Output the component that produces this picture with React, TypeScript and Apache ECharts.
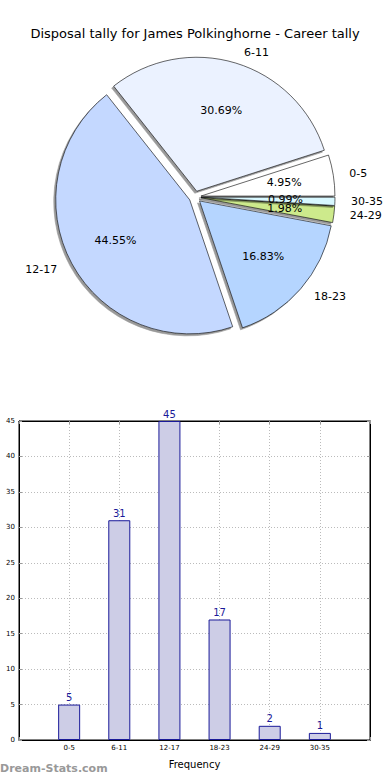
import React, { useEffect, useRef } from "react";
import * as echarts from "echarts";

const categories = ["0-5", "6-11", "12-17", "18-23", "24-29", "30-35"];
const counts = [5, 31, 45, 17, 2, 1];
const pieColors = ["#ffffff", "#ebf2ff", "#c4d8ff", "#b5d5ff", "#cdea8c", "#d8f8ff"];
const yTicks = { min: 0, max: 45, step: 5 };

const FONT = "DejaVu Sans";

export default function App() {
  const ref = useRef<HTMLDivElement>(null);
  useEffect(() => {
    if (!ref.current) return;
    const chart = echarts.init(ref.current, undefined, { renderer: "svg" });
    const total = counts.reduce((a, b) => a + b, 0);
    const R = 134;
    const cx = 195;
    const cy = 197;
    const pieData = categories.map((c, i) => ({
      name: c,
      value: counts[i],
      selected: true,
      itemStyle: { color: pieColors[i] },
    }));
    const pctSeries = categories.map((c, k) => ({
      type: "pie",
      center: [cx, cy],
      radius: [0, R * 1.2],
      startAngle: 0,
      clockwise: false,
      selectedMode: "multiple",
      selectedOffset: 7,
      avoidLabelOverlap: false,
      minShowLabelAngle: 0,
      labelLayout: { hideOverlap: false },
      silent: true,
      z: 5 + k,
      emphasis: { disabled: true },
      itemStyle: { color: "rgba(0,0,0,0)", borderWidth: 0 },
      label: {
        show: false,
        position: "inside",
        fontFamily: FONT,
        fontSize: 11,
        color: "#000",
        formatter: (p: any) => ((p.value / total) * 100).toFixed(2) + "%",
      },
      labelLine: { show: false },
      data: categories.map((cc, i) => ({
        name: cc,
        value: counts[i],
        selected: true,
        label: { show: i === k },
      })),
    }));
    const tickStyle = { show: true, inside: true, length: 3, lineStyle: { color: "#999" } };
    const gridLine = { show: true, lineStyle: { color: "#bbb", type: [1, 2] } };
    chart.setOption({
      animation: false,
      title: {
        text: "Disposal tally for James Polkinghorne - Career tally",
        left: "center",
        top: 22,
        textStyle: { fontFamily: FONT, fontWeight: "normal", fontSize: 13, color: "#000" },
      },
      graphic: [
        {
          type: "text",
          left: 0,
          top: 763,
          style: {
            text: "Dream-Stats.com",
            fontFamily: FONT,
            fontSize: 11,
            fontWeight: "bold",
            fill: "#999",
          },
        },
      ],
      grid: {
        left: 19,
        right: 20,
        top: 421,
        bottom: 40,
        show: true,
        borderColor: "#000",
        borderWidth: 1,
        backgroundColor: "transparent",
      },
      xAxis: [
        {
          type: "value",
          min: -1,
          max: 6,
          interval: 1,
          name: "Frequency",
          nameLocation: "middle",
          nameGap: 19,
          nameTextStyle: { fontFamily: FONT, fontSize: 10, color: "#000" },
          axisLine: { show: true, onZero: false, lineStyle: { color: "#000", width: 1 } },
          axisTick: tickStyle,
          axisLabel: {
            fontFamily: FONT,
            fontSize: 7,
            color: "#000",
            margin: 4,
            formatter: (v: number) => (v >= 0 && v < categories.length ? categories[v] : ""),
          },
          splitLine: gridLine,
        },
        {
          type: "value",
          position: "top",
          min: -1,
          max: 6,
          interval: 1,
          axisLine: { show: true, onZero: false, lineStyle: { color: "#000", width: 1 } },
          axisTick: tickStyle,
          axisLabel: { show: false },
          splitLine: { show: false },
        },
      ],
      yAxis: [
        {
          type: "value",
          min: yTicks.min,
          max: yTicks.max,
          interval: yTicks.step,
          axisLine: { show: true, onZero: false, lineStyle: { color: "#000", width: 1 } },
          axisTick: tickStyle,
          axisLabel: { fontFamily: FONT, fontSize: 7, color: "#000", margin: 4 },
          splitLine: gridLine,
        },
        {
          type: "value",
          position: "right",
          min: yTicks.min,
          max: yTicks.max,
          interval: yTicks.step,
          axisLine: { show: true, onZero: false, lineStyle: { color: "#000", width: 1 } },
          axisTick: tickStyle,
          axisLabel: { show: false },
          splitLine: { show: false },
        },
      ],
      series: [
        {
          type: "pie",
          center: [cx, cy],
          radius: [0, R],
          startAngle: 0,
          clockwise: false,
          selectedMode: "multiple",
          selectedOffset: 6,
          avoidLabelOverlap: false,
          silent: true,
          emphasis: { disabled: true },
          itemStyle: {
            borderColor: "#000",
            borderWidth: 0.6,
            shadowColor: "rgba(0,0,0,0.4)",
            shadowBlur: 0,
            shadowOffsetX: -2,
            shadowOffsetY: 2,
          },
          label: {
            show: true,
            position: "outside",
            fontFamily: FONT,
            fontSize: 11,
            color: "#000",
            formatter: "{b}",
          },
          labelLine: { show: false, length: 11, length2: 0 },
          data: pieData,
        },
        ...pctSeries,
        {
          type: "bar",
          xAxisIndex: 0,
          yAxisIndex: 0,
          barWidth: 22,
          data: counts.map((v, i) => [i, v]),
          itemStyle: { color: "#cdcde6", borderColor: "#1a1a99", borderWidth: 1 },
          label: {
            show: true,
            position: "top",
            distance: 2,
            fontFamily: FONT,
            fontSize: 10,
            color: "#1a1a99",
          },
          silent: true,
        },
      ],
    });
    return () => chart.dispose();
  }, []);
  return (
    <div
      ref={ref}
      style={{ position: "fixed", left: 0, top: 0, width: 390, height: 780, background: "#fff" }}
    />
  );
}
